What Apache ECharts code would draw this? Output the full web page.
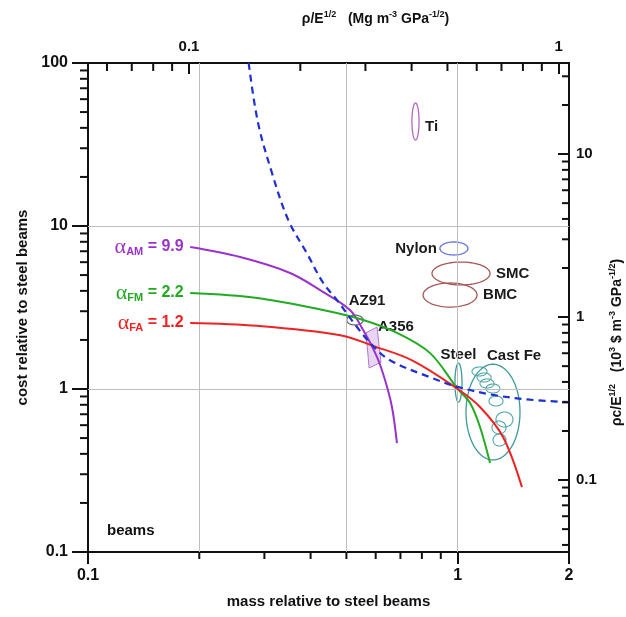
<!DOCTYPE html>
<html>
<head>
<meta charset="utf-8">
<title>beams: cost vs mass</title>
<script src="https://cdn.jsdelivr.net/npm/echarts@6/dist/echarts.min.js"></script>
<style>
    html, body { margin: 0; padding: 0; background: #fff; }
    #chart { width: 626px; height: 617px; }
</style>
</head>
<body>
<div id="chart"></div>
<script>
// trade-off curves, mass ratio (x) against cost ratio (y)
const amMass = [0.189, 0.258, 0.352, 0.432, 0.511, 0.555, 0.605, 0.636, 0.664, 0.685];
const amCost = [7.43, 6.45, 5.15, 3.94, 3.05, 2.30, 1.57, 1.135, 0.776, 0.466];
const fmMass = [0.189, 0.287, 0.432, 0.555, 0.685, 0.842, 1.0, 1.08, 1.149, 1.223];
const fmCost = [3.88, 3.62, 3.05, 2.65, 2.21, 1.66, 1.0, 0.82, 0.585, 0.352];
const faMass = [0.189, 0.287, 0.481, 0.590, 0.757, 1.0, 1.149, 1.326, 1.492];
const faCost = [2.54, 2.44, 2.14, 1.84, 1.49, 1.0, 0.776, 0.508, 0.25];
const dashMass = [0.272, 0.288, 0.314, 0.348, 0.391, 0.432, 0.472, 0.534, 0.587, 0.656, 0.842, 1.0, 1.246, 1.57, 2.0];
const dashCost = [100, 43.5, 21.4, 10.9, 6.8, 4.5, 3.5, 2.4, 1.86, 1.5, 1.18, 1.03, 0.92, 0.86, 0.83];

// material property bubbles (ranges)
const matNames = ['Ti', 'Nylon', 'SMC', 'BMC', 'AZ91', 'Steel', 'Cast Fe'];
const matMassLo = [0.752, 0.895, 0.852, 0.806, 0.501, 0.983, 1.053];
const matMassHi = [0.786, 1.066, 1.223, 1.128, 0.555, 1.027, 1.474];
const matCostLo = [33.7, 6.64, 4.35, 3.18, 2.47, 0.832, 0.367];
const matCostHi = [56.8, 7.98, 6.01, 4.47, 2.84, 1.44, 1.42];

// individual cast iron grades inside the Cast Fe bubble
const feMassLo = [1.093, 1.128, 1.149, 1.193, 1.215, 1.269, 1.238, 1.246];
const feMassHi = [1.200, 1.231, 1.254, 1.301, 1.326, 1.411, 1.351, 1.351];
const feCostLo = [1.202, 1.104, 1.014, 0.945, 0.786, 0.585, 0.530, 0.447];
const feCostHi = [1.365, 1.254, 1.152, 1.073, 0.906, 0.723, 0.636, 0.530];

// A356 region corners
const a356Mass = [0.565, 0.605, 0.620, 0.576];
const a356Cost = [2.21, 2.40, 1.46, 1.345];

// grid lines, tick labels and minor ticks
const gridMass = [0.2, 0.5, 1];
const gridCost = [10, 1];
const massLabels = [0.1, 1, 2];
const costLabels = [0.1, 1, 10, 100];
const rhoLabels = [0.1, 1];
const rhoCostLabels = [0.1, 1, 10];
const minorMass = [0.2, 0.3, 0.4, 0.5, 0.6, 0.7, 0.8, 0.9];
const minorCost = [0.2, 0.3, 0.4, 0.5, 0.6, 0.7, 0.8, 0.9, 2, 3, 4, 5, 6, 7, 8, 9, 20, 30, 40, 50, 60, 70, 80, 90];
const minorRho = [0.06, 0.07, 0.08, 0.09, 0.2, 0.3, 0.4, 0.5, 0.6, 0.7, 0.8, 0.9];
const minorRhoCost = [0.04, 0.05, 0.06, 0.07, 0.08, 0.09, 0.2, 0.3, 0.4, 0.5, 0.6, 0.7, 0.8, 0.9,
    2, 3, 4, 5, 6, 7, 8, 9, 20, 30];

const FONT = 'Liberation Sans, Arial, sans-serif';
const matColor = {
    'Ti': '#b06ac0', 'Nylon': '#6677dd', 'SMC': '#a85757', 'BMC': '#a85757',
    'AZ91': '#6a6a6a', 'Steel': '#3c9a9c', 'Cast Fe': '#3c9a9c'
};
const matLabelSide = {
    'Ti': 'right', 'Nylon': 'left', 'SMC': 'right', 'BMC': 'right',
    'AZ91': 'above', 'Steel': 'aboveMid', 'Cast Fe': 'aboveShift'
};

function pairs(xs, ys) {
    return xs.map(function (x, i) { return [x, ys[i]]; });
}

function onlyLabels(list) {
    return function (v) {
        for (let i = 0; i < list.length; i++) {
            if (Math.abs(list[i] - v) / list[i] < 1e-6) return String(list[i]);
        }
        return '';
    };
}

function ellipsePoints(a, b) {
    const cx = (a[0] + b[0]) / 2, cy = (a[1] + b[1]) / 2;
    const rx = Math.abs(b[0] - a[0]) / 2, ry = Math.abs(b[1] - a[1]) / 2;
    const pts = [];
    for (let i = 0; i < 72; i++) {
        const t = i / 72 * Math.PI * 2;
        pts.push([cx + rx * Math.cos(t), cy + ry * Math.sin(t)]);
    }
    return pts;
}

function renderMaterial(params, api) {
    const name = matNames[params.dataIndex];
    const a = api.coord([api.value(0), api.value(3)]); // left, top
    const b = api.coord([api.value(1), api.value(2)]); // right, bottom
    const color = matColor[name];
    const cy = (a[1] + b[1]) / 2;
    const side = matLabelSide[name];
    let tx, ty, align = 'left', valign = 'middle';
    if (side === 'right') { tx = b[0] + 6; ty = cy + (name === 'Ti' ? 5 : 0); }
    else if (side === 'left') { tx = a[0] - 3; ty = cy; align = 'right'; }
    else if (side === 'above') { tx = a[0] + 2; ty = a[1] - 7; valign = 'bottom'; }
    else if (side === 'aboveMid') { tx = (a[0] + b[0]) / 2; ty = a[1] - 1; align = 'center'; valign = 'bottom'; }
    else { tx = a[0] + 21; ty = a[1] - 1; valign = 'bottom'; }
    return {
        type: 'group',
        children: [{
            type: 'polygon',
            shape: { points: ellipsePoints(a, b) },
            style: { fill: 'none', stroke: color, lineWidth: 1.3 }
        }, {
            type: 'text',
            x: tx, y: ty,
            style: {
                text: name, fill: '#1a1a1a', font: 'bold 15px ' + FONT,
                align: align, verticalAlign: valign
            }
        }]
    };
}

function renderGrade(params, api) {
    const a = api.coord([api.value(0), api.value(3)]);
    const b = api.coord([api.value(1), api.value(2)]);
    return {
        type: 'polygon',
        shape: { points: ellipsePoints(a, b) },
        style: { fill: 'none', stroke: '#4fa5a6', lineWidth: 1.1 }
    };
}

function renderA356(params, api) {
    const pts = a356Mass.map(function (m, i) { return api.coord([m, a356Cost[i]]); });
    const right = Math.max.apply(null, pts.map(function (p) { return p[0]; }));
    const top = Math.min.apply(null, pts.map(function (p) { return p[1]; }));
    return {
        type: 'group',
        children: [{
            type: 'polygon',
            shape: { points: pts },
            style: { fill: 'rgba(195,150,220,0.4)', stroke: '#b07ac8', lineWidth: 1 }
        }, {
            type: 'text',
            x: right - 3, y: top,
            style: { text: 'A356', fill: '#1a1a1a', font: 'bold 15px ' + FONT, align: 'left', verticalAlign: 'middle' }
        }]
    };
}

// minor ticks of the log axes, placed through the axis scale
function tickRenderer(dim, side, len) {
    return function (params, api) {
        const cs = params.coordSys;
        let shape;
        if (dim === 'x') {
            const px = api.coord([api.value(0), 1])[0];
            const y0 = side === 'bottom' ? cs.y + cs.height : cs.y;
            shape = { x1: px, y1: y0, x2: px, y2: y0 + len };
        } else {
            const py = api.coord([1, api.value(1)])[1];
            const x0 = side === 'left' ? cs.x : cs.x + cs.width;
            shape = { x1: x0, y1: py, x2: x0 - len, y2: py };
        }
        return { type: 'line', shape: shape, style: { stroke: '#111', lineWidth: 2 } };
    };
}

function tickSeries(values, dim, side, len, xi, yi) {
    return {
        type: 'custom', silent: true, clip: false, z: 10,
        xAxisIndex: xi, yAxisIndex: yi,
        renderItem: tickRenderer(dim, side, len),
        data: values.map(function (v) { return dim === 'x' ? [v, 1] : [1, v]; }),
        encode: { x: 0, y: 1 }
    };
}

function alphaLabel(sub, val, color) {
    return {
        symbol: 'rect', symbolSize: 1,
        itemStyle: { color: 'rgba(0,0,0,0)' },
        label: {
            show: true, position: 'left', distance: 6,
            formatter: '{a|α}{s|' + sub + '}{t| = ' + val + '}',
            rich: {
                a: { fontFamily: 'Liberation Serif, serif', fontSize: 22, color: color, lineHeight: 22, verticalAlign: 'middle' },
                s: { fontFamily: FONT, fontWeight: 'bold', fontSize: 11, color: color, lineHeight: 22, verticalAlign: 'bottom', padding: [0, 0, 1, 0] },
                t: { fontFamily: FONT, fontWeight: 'bold', fontSize: 16, color: color, lineHeight: 22, verticalAlign: 'middle' }
            }
        }
    };
}

const chart = echarts.init(document.getElementById('chart'), null, { renderer: 'canvas' });

const axisLine = { show: true, lineStyle: { color: '#111', width: 2 } };
const nameRich = {
    n: { fontFamily: FONT, fontWeight: 'bold', fontSize: 14, color: '#111', lineHeight: 18 },
    p: { fontFamily: FONT, fontWeight: 'bold', fontSize: 9, color: '#111', lineHeight: 18, verticalAlign: 'top' }
};

const option = {
    animation: false,
    backgroundColor: '#fff',
    grid: { left: 88, right: 57, top: 63, bottom: 65, outerBoundsMode: 'none', containLabel: false },
    graphic: [{
        type: 'text', left: 107, top: 523,
        style: { text: 'beams', fill: '#111', font: 'bold 15px ' + FONT }
    }],
    xAxis: [{
        type: 'log', logBase: 10, min: 0.1, max: 2, position: 'bottom',
        name: 'mass relative to steel beams', nameLocation: 'middle', nameGap: 42,
        nameTextStyle: { fontFamily: FONT, fontWeight: 'bold', fontSize: 15, color: '#111' },
        axisLine: axisLine,
        axisTick: { show: true, length: 12, lineStyle: { color: '#111', width: 2 } },
        minorTick: { show: false },
        axisLabel: { margin: 16, formatter: onlyLabels(massLabels), showMaxLabel: true, showMinLabel: true,
            fontFamily: FONT, fontWeight: 'bold', fontSize: 16, color: '#111' },
        splitLine: { show: false }
    }, {
        type: 'log', logBase: 10, min: 0.0533, max: 1.066, position: 'top',
        name: '{n|ρ/E}{p|1/2}{n|   (Mg m}{p|-3}{n| GPa}{p|-1/2}{n|)}',
        nameLocation: 'middle', nameGap: 35,
        nameTextStyle: { rich: nameRich, padding: [0, 0, 0, 94] },
        axisLine: axisLine,
        axisTick: { show: true, inside: true, length: 11, lineStyle: { color: '#111', width: 2 } },
        minorTick: { show: false },
        axisLabel: { margin: 9, formatter: onlyLabels(rhoLabels), showMinLabel: false, showMaxLabel: false,
            fontFamily: FONT, fontWeight: 'bold', fontSize: 15, color: '#111' },
        splitLine: { show: false }
    }],
    yAxis: [{
        type: 'log', logBase: 10, min: 0.1, max: 100, position: 'left',
        name: 'cost relative to steel beams', nameLocation: 'middle', nameGap: 50,
        nameTextStyle: { fontFamily: FONT, fontWeight: 'bold', fontSize: 15, color: '#111' },
        axisLine: axisLine,
        axisTick: { show: true, length: 16, lineStyle: { color: '#111', width: 2 } },
        minorTick: { show: false },
        axisLabel: { margin: 20, formatter: onlyLabels(costLabels),
            fontFamily: FONT, fontWeight: 'bold', fontSize: 16, color: '#111' },
        splitLine: { show: false }
    }, {
        type: 'log', logBase: 10, min: 0.0362, max: 36.2, position: 'right',
        name: '{n|ρc/E}{p|1/2}{n|   (10}{p|3}{n| $ m}{p|-3}{n| GPa}{p|-1/2}{n|)}',
        nameLocation: 'middle', nameGap: 22,
        nameTextStyle: { rich: nameRich, padding: [0, 70, 0, 0] },
        axisLine: axisLine,
        axisTick: { show: true, inside: true, length: 11, lineStyle: { color: '#111', width: 2 } },
        minorTick: { show: false },
        axisLabel: { margin: 7, formatter: onlyLabels(rhoCostLabels), showMinLabel: false, showMaxLabel: false,
            fontFamily: FONT, fontWeight: 'bold', fontSize: 15, color: '#111' },
        splitLine: { show: false }
    }],
    series: [{
        // grid lines
        type: 'line', xAxisIndex: 0, yAxisIndex: 0, data: [], z: 1, silent: true,
        markLine: {
            silent: true, symbol: ['none', 'none'], label: { show: false },
            lineStyle: { color: '#bdbdbd', width: 1, type: 'solid' },
            data: gridMass.map(function (v) { return { xAxis: v }; })
                .concat(gridCost.map(function (v) { return { yAxis: v }; }))
        }
    },
    tickSeries(minorMass, 'x', 'bottom', 7, 0, 0),
    tickSeries(minorRho, 'x', 'top', 8, 1, 0),
    tickSeries(minorCost, 'y', 'left', 8, 0, 0),
    tickSeries(minorRhoCost, 'y', 'right', 7, 0, 1),
    {
        type: 'custom', name: 'cast iron grades', xAxisIndex: 0, yAxisIndex: 0, z: 2,
        renderItem: renderGrade,
        data: feMassLo.map(function (m, i) { return [m, feMassHi[i], feCostLo[i], feCostHi[i]]; }),
        encode: { x: [0, 1], y: [2, 3] }
    }, {
        type: 'custom', name: 'materials', xAxisIndex: 0, yAxisIndex: 0, z: 3,
        renderItem: renderMaterial,
        data: matNames.map(function (n, i) { return { name: n, value: [matMassLo[i], matMassHi[i], matCostLo[i], matCostHi[i]] }; }),
        encode: { x: [0, 1], y: [2, 3] }
    }, {
        type: 'custom', name: 'A356', xAxisIndex: 0, yAxisIndex: 0, z: 3,
        renderItem: renderA356,
        data: [[a356Mass[0], a356Cost[0]]],
        encode: { x: 0, y: 1 }
    }, {
        type: 'line', name: 'AM', z: 5, smooth: 0.35, symbol: 'none',
        lineStyle: { color: '#9a33cc', width: 2 },
        data: pairs(amMass, amCost),
        markPoint: { data: [Object.assign({ coord: [amMass[0], amCost[0]] }, alphaLabel('AM', '9.9', '#9a33cc'))] }
    }, {
        type: 'line', name: 'FM', z: 5, smooth: 0.35, symbol: 'none',
        lineStyle: { color: '#22aa22', width: 2 },
        data: pairs(fmMass, fmCost),
        markPoint: { data: [Object.assign({ coord: [fmMass[0], fmCost[0]] }, alphaLabel('FM', '2.2', '#22aa22'))] }
    }, {
        type: 'line', name: 'FA', z: 5, smooth: 0.35, symbol: 'none',
        lineStyle: { color: '#ee2222', width: 2 },
        data: pairs(faMass, faCost),
        markPoint: { data: [Object.assign({ coord: [faMass[0], faCost[0]] }, alphaLabel('FA', '1.2', '#ee2222'))] }
    }, {
        type: 'line', name: 'dashed', z: 6, smooth: 0.35, symbol: 'none',
        lineStyle: { color: '#1f2fd0', width: 2.2, type: [7, 5] },
        data: pairs(dashMass, dashCost)
    }]
};

chart.setOption(option);
</script>
</body>
</html>
